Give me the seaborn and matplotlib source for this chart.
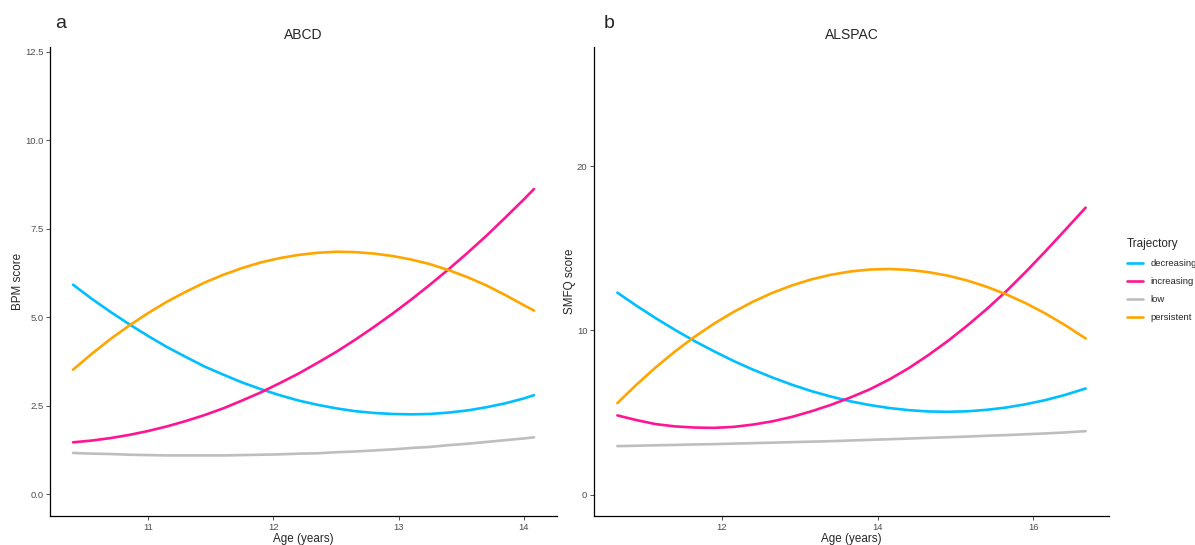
import numpy as np
import pandas as pd
import matplotlib
matplotlib.use('Agg')
import matplotlib.pyplot as plt
import seaborn as sns

# =====================
# DATA
# =====================
trajectories = ['decreasing', 'increasing', 'low', 'persistent']
palette = {'decreasing': '#00BFFF', 'increasing': '#FF1493',
           'low': '#BEBEBE', 'persistent': '#FFA500'}

# ABCD — BPM score
abcd_age = [10.40, 10.55, 10.70, 10.85, 11.00, 11.15, 11.30, 11.45, 11.60,
            11.75, 11.90, 12.05, 12.20, 12.35, 12.50, 12.65, 12.80, 12.95,
            13.10, 13.25, 13.40, 13.55, 13.70, 13.85, 14.00, 14.08]
abcd_decreasing = [5.92, 5.52, 5.15, 4.80, 4.47, 4.16, 3.88, 3.61, 3.38,
                   3.16, 2.97, 2.80, 2.65, 2.53, 2.43, 2.35, 2.30, 2.27,
                   2.26, 2.27, 2.31, 2.37, 2.46, 2.57, 2.71, 2.80]
abcd_increasing = [1.47, 1.52, 1.59, 1.68, 1.79, 1.92, 2.07, 2.24, 2.43,
                   2.65, 2.88, 3.14, 3.41, 3.71, 4.02, 4.36, 4.72, 5.10,
                   5.50, 5.92, 6.36, 6.82, 7.30, 7.81, 8.33, 8.62]
abcd_low = [1.17, 1.15, 1.14, 1.12, 1.11, 1.10, 1.10, 1.10, 1.10,
            1.11, 1.12, 1.13, 1.15, 1.16, 1.19, 1.21, 1.24, 1.27,
            1.31, 1.34, 1.39, 1.43, 1.48, 1.53, 1.58, 1.61]
abcd_persistent = [3.52, 3.97, 4.39, 4.77, 5.12, 5.44, 5.72, 5.98, 6.20,
                   6.39, 6.55, 6.67, 6.76, 6.82, 6.85, 6.84, 6.80, 6.73,
                   6.63, 6.50, 6.33, 6.13, 5.90, 5.63, 5.34, 5.19]

# ALSPAC — SMFQ score
alspac_age = [10.66, 10.90, 11.15, 11.40, 11.65, 11.90, 12.15, 12.40, 12.65,
              12.90, 13.15, 13.40, 13.65, 13.90, 14.15, 14.40, 14.65, 14.90,
              15.15, 15.40, 15.65, 15.90, 16.15, 16.40, 16.67]
alspac_decreasing = [12.30, 11.52, 10.75, 10.03, 9.35, 8.73, 8.14, 7.61, 7.13,
                     6.69, 6.30, 5.97, 5.68, 5.45, 5.27, 5.14, 5.06, 5.04,
                     5.07, 5.16, 5.30, 5.50, 5.75, 6.06, 6.46]
alspac_increasing = [4.82, 4.54, 4.29, 4.15, 4.08, 4.06, 4.12, 4.26, 4.46,
                     4.73, 5.07, 5.46, 5.91, 6.41, 7.01, 7.70, 8.49, 9.35,
                     10.29, 11.30, 12.38, 13.56, 14.80, 16.08, 17.48]
alspac_low = [2.95, 2.97, 3.00, 3.02, 3.05, 3.07, 3.10, 3.13, 3.16,
              3.19, 3.22, 3.25, 3.29, 3.33, 3.37, 3.41, 3.45, 3.49,
              3.53, 3.58, 3.62, 3.67, 3.72, 3.78, 3.86]
alspac_persistent = [5.57, 6.67, 7.74, 8.72, 9.61, 10.41, 11.12, 11.75, 12.29,
                     12.74, 13.11, 13.39, 13.59, 13.71, 13.74, 13.69, 13.55, 13.34,
                     13.04, 12.66, 12.20, 11.66, 11.04, 10.34, 9.51]


def long_df(age, series):
    rows = []
    for name, vals in zip(trajectories, series):
        for a, v in zip(age, vals):
            rows.append({'age': a, 'score': v, 'Trajectory': name})
    return pd.DataFrame(rows)


df_a = long_df(abcd_age, [abcd_decreasing, abcd_increasing, abcd_low, abcd_persistent])
df_b = long_df(alspac_age, [alspac_decreasing, alspac_increasing, alspac_low, alspac_persistent])

# =====================
# STYLE
# =====================
sns.set_theme(style='ticks')
plt.rcParams['font.family'] = ['Liberation Sans', 'DejaVu Sans']
plt.rcParams['lines.solid_joinstyle'] = 'round'

fig = plt.figure(figsize=(11.95, 5.45), dpi=100)
ax_a = fig.add_axes([50 / 1195, 29 / 545, 507 / 1195, 469 / 545])
ax_b = fig.add_axes([594 / 1195, 29 / 545, 515 / 1195, 469 / 545])

LW = 1.9
sns.lineplot(data=df_a, x='age', y='score', hue='Trajectory', hue_order=trajectories,
             palette=palette, linewidth=LW, ax=ax_a, legend=False)
sns.lineplot(data=df_b, x='age', y='score', hue='Trajectory', hue_order=trajectories,
             palette=palette, linewidth=LW, ax=ax_b, legend=True)

ax_a.set_xlim(10.216, 14.264)
ax_a.set_ylim(-0.61, 12.63)
ax_a.set_xticks([11, 12, 13, 14])
ax_a.set_yticks([0, 2.5, 5, 7.5, 10, 12.5])
ax_a.set_yticklabels(['0.0', '2.5', '5.0', '7.5', '10.0', '12.5'])
ax_a.set_ylabel('BPM score')
ax_a.set_title('ABCD', fontsize=10, pad=5.5)

ax_b.set_xlim(10.36, 16.97)
ax_b.set_ylim(-1.31, 27.27)
ax_b.set_xticks([12, 14, 16])
ax_b.set_yticks([0, 10, 20])
ax_b.set_ylabel('SMFQ score')
ax_b.set_title('ALSPAC', fontsize=10, pad=5.5)

for ax in (ax_a, ax_b):
    ax.set_xlabel('Age (years)', fontsize=8.4, labelpad=1)
    ax.set_ylabel(ax.get_ylabel(), fontsize=8.4, labelpad=0.5)
    ax.tick_params(axis='both', labelsize=6.8, colors='#333333', labelcolor='#4D4D4D',
                   length=2.8, width=0.6, pad=2)
    for side in ('left', 'bottom'):
        ax.spines[side].set_color('black')
        ax.spines[side].set_linewidth(0.9)
    sns.despine(ax=ax)

# panel letters
fig.text(55 / 1195, 1 - 23.5 / 545, 'a', fontsize=14, va='center', ha='left')
fig.text(604 / 1195, 1 - 23 / 545, 'b', fontsize=14, va='center', ha='left')

# legend on the right, as in the figure
handles, labels = ax_b.get_legend_handles_labels()
ax_b.get_legend().remove()
leg = fig.legend(handles, labels, title='Trajectory', loc='upper left',
                 bbox_to_anchor=(1122 / 1195, 1 - 233 / 545), frameon=False,
                 fontsize=6.8, title_fontsize=8.4, handlelength=1.75,
                 handletextpad=0.8, labelspacing=0.97, borderpad=0,
                 alignment='left')

fig.savefig('out.png', dpi=100)
